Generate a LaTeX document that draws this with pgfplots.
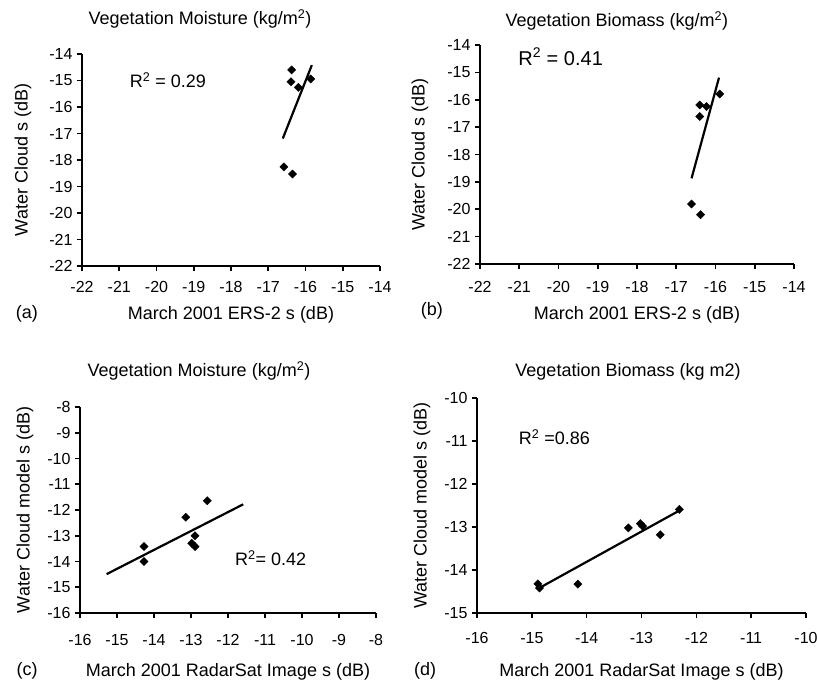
\documentclass[border=0pt]{standalone}
\usepackage{pgfplots}
\pgfplotsset{compat=1.18}
\usepackage{fontspec}
\setmainfont{Liberation Sans}

\pgfplotsset{
  panel/.style={
    scale only axis,
    axis x line*=bottom,
    axis y line*=left,
    tick align=outside,
    major tick length=5bp,
    axis line style={line width=1.6bp},
    every tick/.style={black, line width=1.6bp},
    xticklabel style={font=\fontsize{16bp}{19bp}\selectfont},
    yticklabel style={font=\fontsize{16bp}{19bp}\selectfont, xshift=-1bp},
    /pgf/number format/assume math mode=true,
    label style={font=\fontsize{18bp}{21bp}\selectfont},
    title style={font=\fontsize{18bp}{21bp}\selectfont, anchor=center},
    xtick distance=1, ytick distance=1,
    clip=false,
  },
  pts/.style={only marks, mark=square*, mark size=2.9bp,
    mark options={rotate=45}, black},
  fit/.style={black, line width=2.2bp, no marks},
}
\tikzset{
  rsq/.style={font=\fontsize{18bp}{21bp}\selectfont, anchor=west},
  tag/.style={font=\fontsize{18bp}{21bp}\selectfont, anchor=center},
}

\begin{document}
\begin{tikzpicture}
\useasboundingbox (0,0) rectangle (817bp,-682bp);

% (a)
\begin{axis}[panel,
    at={(82bp,-54bp)}, anchor=north west,
    width=298bp, height=212bp,
    xmin=-22, xmax=-14, ymin=-22, ymax=-14,
    xticklabel style={yshift=-7bp},
    title={Vegetation Moisture (kg/m\textsuperscript{2})},
    title style={at={(axis description cs:0.396,1.136)}},
    xlabel={March 2001 ERS-2 s (dB)},
    xlabel style={at={(axis description cs:0.5,-0.23)}, anchor=center},
    ylabel={Water Cloud s (dB)},
    ylabel style={at={(axis description cs:-0.198,0.5)}, anchor=center}]
  \addplot[pts] coordinates {
    (-16.37,-14.60) (-16.39,-15.05) (-16.19,-15.26) (-15.86,-14.94)
    (-16.58,-18.26) (-16.35,-18.53)};
  \addplot[fit] coordinates {(-16.61,-17.19) (-15.83,-14.42)};
  \node[rsq] at (axis cs:-20.81,-15.0) {R\textsuperscript{2} = 0.29};
  \node[tag] at (axis description cs:-0.185,-0.225) {(a)};
\end{axis}

% (b)
\begin{axis}[panel,
    at={(480bp,-45bp)}, anchor=north west,
    width=314bp, height=219bp,
    xmin=-22, xmax=-14, ymin=-22, ymax=-14,
    xticklabel style={yshift=-9bp},
    title={Vegetation Biomass (kg/m\textsuperscript{2})},
    title style={at={(axis description cs:0.436,1.082)}},
    xlabel={March 2001 ERS-2 s (dB)},
    xlabel style={at={(axis description cs:0.5,-0.232)}, anchor=center},
    ylabel={Water Cloud s  (dB)},
    ylabel style={at={(axis description cs:-0.191,0.5)}, anchor=center}]
  \addplot[pts] coordinates {
    (-16.40,-16.19) (-16.23,-16.25) (-16.40,-16.61) (-15.89,-15.79)
    (-16.61,-19.81) (-16.38,-20.20)};
  \addplot[fit] coordinates {(-16.61,-18.87) (-15.91,-15.19)};
  \node[rsq, font=\fontsize{20bp}{23bp}\selectfont] at (axis cs:-21.11,-14.43) {R\textsuperscript{2} = 0.41};
  \node[tag] at (axis description cs:-0.153,-0.215) {(b)};
\end{axis}

% (c)
\begin{axis}[panel,
    at={(80bp,-407bp)}, anchor=north west,
    width=296bp, height=206bp,
    xmin=-16, xmax=-8, ymin=-16, ymax=-8,
    xticklabel style={yshift=-13bp},
    title={Vegetation Moisture (kg/m\textsuperscript{2})},
    title style={at={(axis description cs:0.402,1.146)}},
    xlabel={March 2001 RadarSat Image s (dB)},
    xlabel style={at={(axis description cs:0.5,-0.285)}, anchor=center},
    ylabel={Water Cloud model s (dB)},
    ylabel style={at={(axis description cs:-0.186,0.5)}, anchor=center}]
  \addplot[pts] coordinates {
    (-14.27,-13.42) (-14.27,-14.00) (-13.14,-12.28) (-12.56,-11.64)
    (-12.89,-13.00) (-12.98,-13.29) (-12.89,-13.42)};
  \addplot[fit] coordinates {(-15.28,-14.49) (-11.59,-11.78)};
  \node[rsq] at (axis cs:-11.90,-13.87) {R\textsuperscript{2}= 0.42};
  \node[tag] at (axis description cs:-0.179,-0.282) {(c)};
\end{axis}

% (d)
\begin{axis}[panel,
    at={(477bp,-398bp)}, anchor=north west,
    width=329bp, height=215bp,
    xmin=-16, xmax=-10, ymin=-15, ymax=-10,
    xticklabel style={yshift=-11bp},
    title={Vegetation Biomass (kg m2)},
    title style={at={(axis description cs:0.459,1.093)}},
    xlabel={March 2001 RadarSat Image s (dB)},
    xlabel style={at={(axis description cs:0.5,-0.273)}, anchor=center},
    ylabel={Water Cloud model s (dB)},
    ylabel style={at={(axis description cs:-0.167,0.5)}, anchor=center}]
  \addplot[pts] coordinates {
    (-14.89,-14.32) (-14.86,-14.42) (-14.16,-14.33) (-13.24,-13.02)
    (-13.02,-12.92) (-12.98,-12.98) (-12.66,-13.18) (-12.31,-12.59)};
  \addplot[fit] coordinates {(-14.88,-14.43) (-12.27,-12.59)};
  \node[rsq] at (axis cs:-15.30,-10.91) {R\textsuperscript{2} =0.86};
  \node[tag] at (axis description cs:-0.158,-0.27) {(d)};
\end{axis}
\end{tikzpicture}
\end{document}
